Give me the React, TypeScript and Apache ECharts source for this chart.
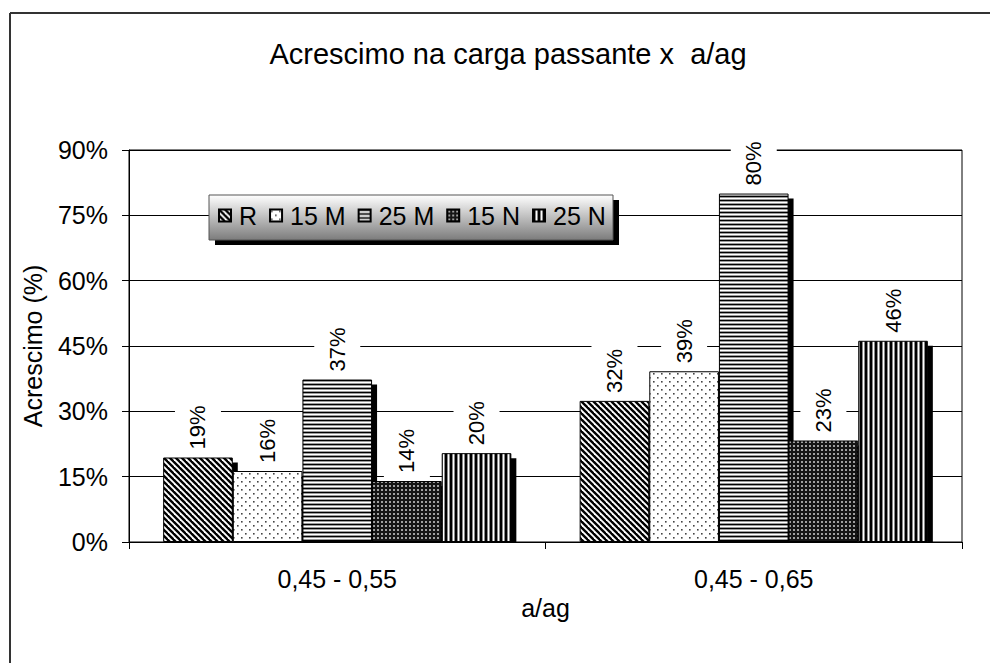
import React, { useEffect, useRef } from 'react';
import * as echarts from 'echarts';

const categories = ['0,45 - 0,55', '0,45 - 0,65'];
const seriesNames = ['R', '15 M', '25 M', '15 N', '25 N'];
const valuesR = [0.194, 0.324];
const values15M = [0.163, 0.392];
const values25M = [0.373, 0.8];
const values15N = [0.14, 0.233];
const values25N = [0.204, 0.462];
const allValues = [valuesR, values15M, values25M, values15N, values25N];
const yMin = 0;
const yMax = 0.9;
const yInterval = 0.15;

const FONT = '"Liberation Sans", Arial, sans-serif';
const CAT_GAP = 0.164;

function makePattern(kind: string): any {
  const c = document.createElement('canvas');
  let w = 6;
  let h = 6;
  if (kind === 'diag') { w = 6; h = 6; }
  if (kind === 'dots') { w = 8; h = 8; }
  if (kind === 'hstripe') { w = 4; h = 4; }
  if (kind === 'grid') { w = 4; h = 4; }
  if (kind === 'vstripe') { w = 5; h = 5; }
  c.width = w;
  c.height = h;
  const ctx = c.getContext('2d')!;
  ctx.fillStyle = '#fff';
  ctx.fillRect(0, 0, w, h);
  if (kind === 'diag') {
    ctx.strokeStyle = '#000';
    ctx.lineWidth = 2.4;
    for (const x0 of [-6, 0, 6]) {
      ctx.beginPath();
      ctx.moveTo(x0 - 1, -1);
      ctx.lineTo(x0 + 7, 7);
      ctx.stroke();
    }
  } else if (kind === 'dots') {
    ctx.fillStyle = '#444';
    ctx.fillRect(1, 1, 1.6, 1.6);
    ctx.fillRect(5, 5, 1.6, 1.6);
  } else if (kind === 'hstripe') {
    const rows = ['#000', '#9a9a9a', '#fff', '#9a9a9a'];
    rows.forEach((col, i) => { ctx.fillStyle = col; ctx.fillRect(0, i, w, 1); });
  } else if (kind === 'grid') {
    ctx.fillStyle = '#151515';
    ctx.fillRect(0, 0, w, h);
    ctx.fillStyle = '#a0a0a0';
    ctx.fillRect(1, 1, 2, 2);
  } else if (kind === 'vstripe') {
    const cols = ['#000', '#000', '#888', '#fff', '#888'];
    cols.forEach((col, i) => { ctx.fillStyle = col; ctx.fillRect(i, 0, 1, h); });
  }
  return { image: c.toDataURL(), imageWidth: w, imageHeight: h, repeat: 'repeat' };
}

export default function App() {
  const ref = useRef<HTMLDivElement>(null);
  useEffect(() => {
    document.body.style.margin = '0';
    if (!ref.current) return;
    const chart = echarts.init(ref.current, null, { renderer: 'svg' });
    const kinds = ['diag', 'dots', 'hstripe', 'grid', 'vstripe'];
    const patterns = kinds.map(makePattern);

    const shadowData: number[][] = [];
    allValues.forEach((arr, s) => arr.forEach((v, c) => shadowData.push([c, s, v])));

    const barSeries = seriesNames.map((name, i) => ({
      type: 'bar',
      name,
      data: allValues[i],
      barGap: '0%',
      barCategoryGap: (CAT_GAP * 100) + '%',
      z: 2,
      itemStyle: { color: patterns[i], borderColor: '#000', borderWidth: 1 },
      label: {
        show: true,
        position: 'top',
        rotate: 90,
        align: 'left',
        verticalAlign: 'middle',
        distance: 4,
        formatter: (p: any) => Math.round(p.value * 100) + '%',
        fontSize: 22,
        fontFamily: FONT,
        color: '#000',
        backgroundColor: '#fff',
        padding: [12, 5, 12, 4],
      },
    }));

    const shadowSeries = {
      type: 'custom',
      name: '_shadow',
      z: 1,
      silent: true,
      clip: false,
      encode: { x: 0, y: 2 },
      data: shadowData,
      renderItem: (params: any, api: any) => {
        const c = api.value(0);
        const s = api.value(1);
        const v = api.value(2);
        const top = api.coord([c, v]);
        const base = api.coord([c, 0]);
        const band = api.size([1, 0])[0];
        const used = band * (1 - CAT_GAP);
        const bw = used / seriesNames.length;
        const x = top[0] - used / 2 + s * bw;
        return {
          type: 'rect',
          shape: { x: x + 5, y: top[1] + 5, width: bw, height: base[1] - top[1] - 5 },
          style: { fill: '#000' },
        };
      },
    };

    chart.setOption({
      animation: false,
      backgroundColor: '#fff',
      textStyle: { fontFamily: FONT },
      title: {
        text: 'Acrescimo na carga passante x  a/ag',
        left: 503,
        textAlign: 'center',
        top: 34,
        textStyle: { fontSize: 29, fontWeight: 'normal', color: '#000', fontFamily: FONT },
      },
      legend: {
        data: seriesNames,
        left: 218,
        top: 203,
        padding: 0,
        itemGap: 12,
        itemWidth: 12,
        itemHeight: 12,
        icon: 'rect',
        textStyle: { fontSize: 25, color: '#000', fontFamily: FONT, padding: [0, 0, 0, 3] },
        z: 5,
      },
      grid: {
        left: 129,
        right: 28,
        top: 150,
        bottom: 121,
        show: true,
        borderColor: '#000',
        borderWidth: 1,
        backgroundColor: 'transparent',
      },
      xAxis: {
        type: 'category',
        data: categories,
        name: 'a/ag',
        nameLocation: 'middle',
        nameGap: 44,
        nameTextStyle: { fontSize: 25, color: '#000', fontFamily: FONT },
        axisLine: { lineStyle: { color: '#000', width: 1 } },
        axisTick: { show: true, length: 7, interval: 0, lineStyle: { color: '#000' } },
        axisLabel: { fontSize: 25, color: '#000', margin: 24, fontFamily: FONT },
        splitLine: { show: false },
      },
      yAxis: {
        type: 'value',
        min: yMin,
        max: yMax,
        interval: yInterval,
        name: 'Acrescimo (%)',
        nameLocation: 'middle',
        nameGap: 84,
        nameTextStyle: { fontSize: 25, color: '#000', fontFamily: FONT },
        axisLine: { show: true, lineStyle: { color: '#000', width: 1 } },
        axisTick: { show: true, length: 7, lineStyle: { color: '#000' } },
        axisLabel: {
          fontSize: 25,
          color: '#000',
          margin: 21,
          fontFamily: FONT,
          formatter: (v: number) => Math.round(v * 100) + '%',
        },
        splitLine: { show: true, lineStyle: { color: '#000', width: 1 } },
      },
      graphic: [
        { type: 'line', shape: { x1: 10, y1: 13, x2: 990, y2: 13 }, style: { stroke: '#333', lineWidth: 2 } },
        { type: 'line', shape: { x1: 10, y1: 13, x2: 10, y2: 663 }, style: { stroke: '#333', lineWidth: 2 } },
        { type: 'rect', z: 3, z2: 0, shape: { x: 215, y: 200, width: 404, height: 45 }, style: { fill: '#000' } },
        {
          type: 'rect', z: 3, z2: 1,
          shape: { x: 209, y: 195, width: 404, height: 45 },
          style: {
            fill: new echarts.graphic.LinearGradient(0, 0, 0, 1, [
              { offset: 0, color: '#ffffff' },
              { offset: 1, color: '#7c7c7c' },
            ]),
            stroke: '#555',
            lineWidth: 1,
          },
        },
      ],
      series: [shadowSeries, ...barSeries],
    } as any);
    return () => chart.dispose();
  }, []);
  return <div ref={ref} style={{ width: 990, height: 663 }} />;
}
